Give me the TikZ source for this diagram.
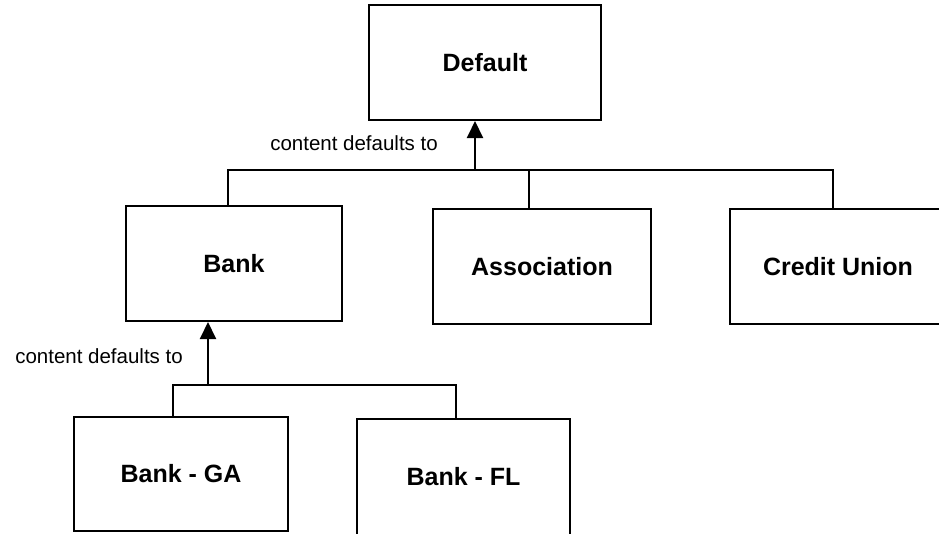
\documentclass[tikz,border=0pt]{standalone}
\usepackage{fontspec}
\setmainfont{Liberation Sans}
\usepackage{tikz}
\usetikzlibrary{arrows.meta, positioning, calc}

\begin{document}
\begin{tikzpicture}[
    x=1pt, y=-1pt,
    entity/.style={rectangle, draw=black, line width=2pt, fill=white,
                   minimum height=115pt, align=center,
                   font=\fontsize{25}{30}\selectfont\bfseries},
    link/.style={draw=black, line width=2pt},
    inherit/.style={link, -{Triangle[width=16pt,length=17pt]}},
    note/.style={font=\fontsize{20.5}{24}\selectfont, anchor=east, inner sep=0pt}
]
    \useasboundingbox (0,0) rectangle (939,533);

    % top level
    \node[entity, minimum width=232pt] (default) at (485,62.5) {Default};

    % second level
    \node[entity, minimum width=216pt] (bank) at (234,263.5) {Bank};
    \node[entity, minimum width=218pt] (assoc) at (542,266.5) {Association};
    \node[entity, minimum width=216pt] (cu) at (838,266.5) {Credit Union};

    % third level
    \node[entity, minimum width=214pt, minimum height=114pt] (bankga) at (181,474) {Bank - GA};
    \node[entity, minimum width=213pt, minimum height=116pt] (bankfl) at (463.5,477) {Bank - FL};

    % bus lines
    \coordinate (busA) at (475,170);
    \coordinate (busB) at (208,385);

    \draw[link] ([xshift=-6pt]bank.north) |- ([xshift=-5pt]cu.north |- busA) -- ([xshift=-5pt]cu.north);
    \draw[link] ([xshift=-13pt]assoc.north) -- ([xshift=-13pt]assoc.north |- busA);
    \draw[inherit] (busA) -- (busA |- default.south);

    \draw[link] ([xshift=-8pt]bankga.north) |- ([xshift=-7.5pt]bankfl.north |- busB) -- ([xshift=-7.5pt]bankfl.north);
    \draw[inherit] (busB) -- (busB |- bank.south);

    % labels
    \node[note] (noteA) at (438,143) {content defaults to};
    \node[note] (noteB) at (183,356) {content defaults to};
\end{tikzpicture}
\end{document}
